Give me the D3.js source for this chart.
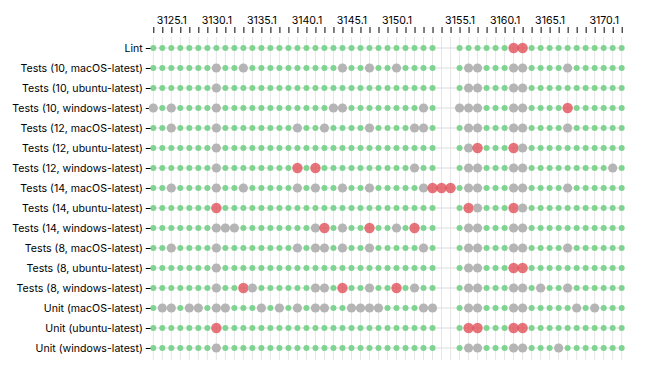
<!DOCTYPE html>
<html>
<head>
<meta charset="utf-8">
<script src="https://cdn.jsdelivr.net/npm/d3@7"></script>
<style>
  body { margin: 0; background: #fff; }
</style>
</head>
<body>
<div id="chart"></div>
<script>
// Builds along the x axis (in run order)
var builds = [
	'3123.1', '3124.1', '3125.1', '3126.1', '3127.1', '3128.1', '3129.1', '3130.1', '3131.1', '3132.1',
	'3133.1', '3134.1', '3135.1', '3136.1', '3137.1', '3138.1', '3139.1', '3140.1', '3141.1', '3142.1',
	'3143.1', '3144.1', '3145.1', '3146.1', '3147.1', '3148.1', '3149.1', '3150.1', '3151.1', '3152.1',
	'3153.1', '3154.1', '3154.2', '3154.3', '3155.1', '3156.1', '3157.1', '3158.1', '3159.1', '3160.1',
	'3161.1', '3162.1', '3163.1', '3164.1', '3165.1', '3166.1', '3167.1', '3167.2', '3168.1', '3169.1',
	'3170.1', '3171.1', '3172.1'
];

// Jobs along the y axis
var jobs = [
	'Lint',
	'Tests (10, macOS-latest)',
	'Tests (10, ubuntu-latest)',
	'Tests (10, windows-latest)',
	'Tests (12, macOS-latest)',
	'Tests (12, ubuntu-latest)',
	'Tests (12, windows-latest)',
	'Tests (14, macOS-latest)',
	'Tests (14, ubuntu-latest)',
	'Tests (14, windows-latest)',
	'Tests (8, macOS-latest)',
	'Tests (8, ubuntu-latest)',
	'Tests (8, windows-latest)',
	'Unit (macOS-latest)',
	'Unit (ubuntu-latest)',
	'Unit (windows-latest)'
];

// One character per build: g = success, s = skipped, f = failure, . = not run
var runs = [
	'gggggggggg' + 'gggggggggg' + 'gggggggggg' + 'gg..gggggg' + 'ffgggggggg' + 'ggg',
	'gggggggsgg' + 'sggggggggg' + 'gsggsggsgg' + 'gg..gssggg' + 'ssggggsggg' + 'ggg',
	'gggggggsgg' + 'gggggggggg' + 'gggggggggg' + 'gg..gssggg' + 'ssgggggggg' + 'ggg',
	'sgsggggsgg' + 'gggggggggg' + 'ssgggggggg' + 'sg..sssggg' + 'ssggggfggg' + 'ggg',
	'ggsggggsgg' + 'ggggggsggs' + 'ggggsggggs' + 'sg..gssggg' + 'ssggggsggg' + 'ggg',
	'gggggggsgg' + 'gggggggggg' + 'gggggggggg' + 'gg..gsfggg' + 'fsgggggggg' + 'ggg',
	'gggggggsgg' + 'ggggggfgfg' + 'gggggggggs' + 'gg..gssggg' + 'ssgggggggg' + 'gsg',
	'ggsggggsgg' + 'sgggggsgsg' + 'gsggsggggg' + 'sfffgssggg' + 'ssggggsggg' + 'ggg',
	'gggggggfgg' + 'gggggggggg' + 'gggggggggg' + 'gg..gfsggg' + 'fsgggggggg' + 'ggg',
	'gggggggsss' + 'ggggggggsf' + 'gsggfggsgf' + 'gg..gssggg' + 'ssgggggggg' + 'ggg',
	'ggsggggsgg' + 'ggggggsgss' + 'gsggsggggg' + 'sg..gssggg' + 'ssggggsggg' + 'ggg',
	'gggggggsgg' + 'gggggggggg' + 'gggggggggg' + 'gg..gssggg' + 'ffgggggggg' + 'ggg',
	'gggggggsgg' + 'fsggggggss' + 'gfggsggfgs' + 'gg..gssggg' + 'ssgsggsggg' + 'ggg',
	'gssgssgssg' + 'ggsgsgsgss' + 'ggssssgggg' + 'ss..gssggg' + 'ssgggggsgs' + 'ggg',
	'gggggggfgg' + 'gggggggggg' + 'gggggggggg' + 'gg..gffggg' + 'ffgggggggg' + 'ggg',
	'gggggggsgg' + 'gggggggggg' + 'gggggggggg' + 'gg..gssggg' + 'ssgggsgggg' + 'ggg'
];

var statusKeys = [ 'g', 's', 'f' ];
var statusColors = [ '#80d492', '#b5b5b5', '#e0454f' ];
var statusRadius = [ 3, 4.6, 5.2 ];

function Chart() {
	// Exposed variables
	var attrs = {
		svgWidth: 648,
		svgHeight: 374,
		marginTop: 48,
		marginLeft: 153.3,
		marginRight: 26.3,
		marginBottom: 26,
		container: 'body',
		defaultTextFill: '#000',
		defaultFont: 'Inter, "Noto Sans", sans-serif',
		fontSize: 10.6,
		gridColor: '#e6e6e6',
		data: null
	};

	var main = function() {
		var container = d3.select(attrs.container);

		//Calculated properties
		var calc = {};
		calc.chartWidth = attrs.svgWidth - attrs.marginLeft - attrs.marginRight;
		calc.chartHeight = attrs.svgHeight - attrs.marginTop - attrs.marginBottom;

		var svg = container
			.patternify({ tag: 'svg', selector: 'svg-chart-container' })
			.attr('width', attrs.svgWidth)
			.attr('height', attrs.svgHeight)
			.attr('font-family', attrs.defaultFont)
			.style('display', 'block');

		var chart = svg
			.patternify({ tag: 'g', selector: 'chart' })
			.attr('transform', 'translate(' + attrs.marginLeft + ',' + attrs.marginTop + ')');

		// Scales
		var x = d3.scalePoint().domain(attrs.data.builds).range([ 0, calc.chartWidth ]);
		var y = d3.scalePoint().domain(attrs.data.jobs).range([ 0, calc.chartHeight ]);
		var color = d3.scaleOrdinal().domain(statusKeys).range(statusColors);
		var radius = d3.scaleOrdinal().domain(statusKeys).range(statusRadius);

		// Vertical grid
		chart
			.patternify({ tag: 'line', selector: 'grid-x', data: attrs.data.builds })
			.attr('x1', (d) => x(d))
			.attr('x2', (d) => x(d))
			.attr('y1', -11)
			.attr('y2', calc.chartHeight + 12)
			.attr('stroke', attrs.gridColor);

		// Row lines
		chart
			.patternify({ tag: 'line', selector: 'row-line', data: attrs.data.jobs })
			.attr('x1', 0)
			.attr('x2', calc.chartWidth)
			.attr('y1', (d) => y(d))
			.attr('y2', (d) => y(d))
			.attr('stroke', '#dcdcdc');

		// Top axis
		var xAxis = d3
			.axisTop(x)
			.tickSize(6)
			.tickPadding(3)
			.tickFormat((d) => {
				var parts = d.split('.');
				return parts[1] === '1' && +parts[0] % 5 === 0 ? d : '';
			});
		var xAxisG = chart
			.patternify({ tag: 'g', selector: 'x-axis' })
			.attr('transform', 'translate(0,-15)')
			.call(xAxis);
		xAxisG.select('.domain').remove();
		xAxisG.selectAll('text').attr('font-size', attrs.fontSize).attr('font-family', attrs.defaultFont).attr('fill', attrs.defaultTextFill);

		// Left axis
		var yAxis = d3.axisLeft(y).tickSize(6).tickPadding(3);
		var yAxisG = chart
			.patternify({ tag: 'g', selector: 'y-axis' })
			.attr('transform', 'translate(-1.5,0)')
			.call(yAxis);
		yAxisG.select('.domain').remove();
		yAxisG.selectAll('text').attr('font-size', attrs.fontSize).attr('font-family', attrs.defaultFont).attr('fill', attrs.defaultTextFill);

		// Dots
		var cells = [];
		attrs.data.runs.forEach((row, j) => {
			row.split('').forEach((s, i) => {
				if (s !== '.') cells.push({ job: attrs.data.jobs[j], build: attrs.data.builds[i], status: s });
			});
		});

		chart
			.patternify({ tag: 'circle', selector: 'dot', data: cells })
			.attr('cx', (d) => x(d.build))
			.attr('cy', (d) => y(d.job))
			.attr('r', (d) => radius(d.status))
			.attr('fill', (d) => color(d.status))
			.attr('fill-opacity', (d) => (d.status === 'f' ? 0.75 : 1));
	};

	//----------- PROTOTYPE FUNCTIONS  ----------------------
	d3.selection.prototype.patternify = function(params) {
		var container = this;
		var selector = params.selector;
		var elementTag = params.tag;
		var data = params.data || [ selector ];

		var selection = container.selectAll('.' + selector).data(data);
		selection.exit().remove();
		selection = selection.enter().append(elementTag).merge(selection);
		selection.attr('class', selector);
		return selection;
	};

	Object.keys(attrs).forEach((key) => {
		main[key] = function(_) {
			if (!arguments.length) return attrs[key];
			attrs[key] = _;
			return main;
		};
	});

	main.render = function() {
		main();
		return main;
	};

	return main;
}

Chart()
	.container('#chart')
	.data({ builds: builds, jobs: jobs, runs: runs })
	.render();
</script>
</body>
</html>
